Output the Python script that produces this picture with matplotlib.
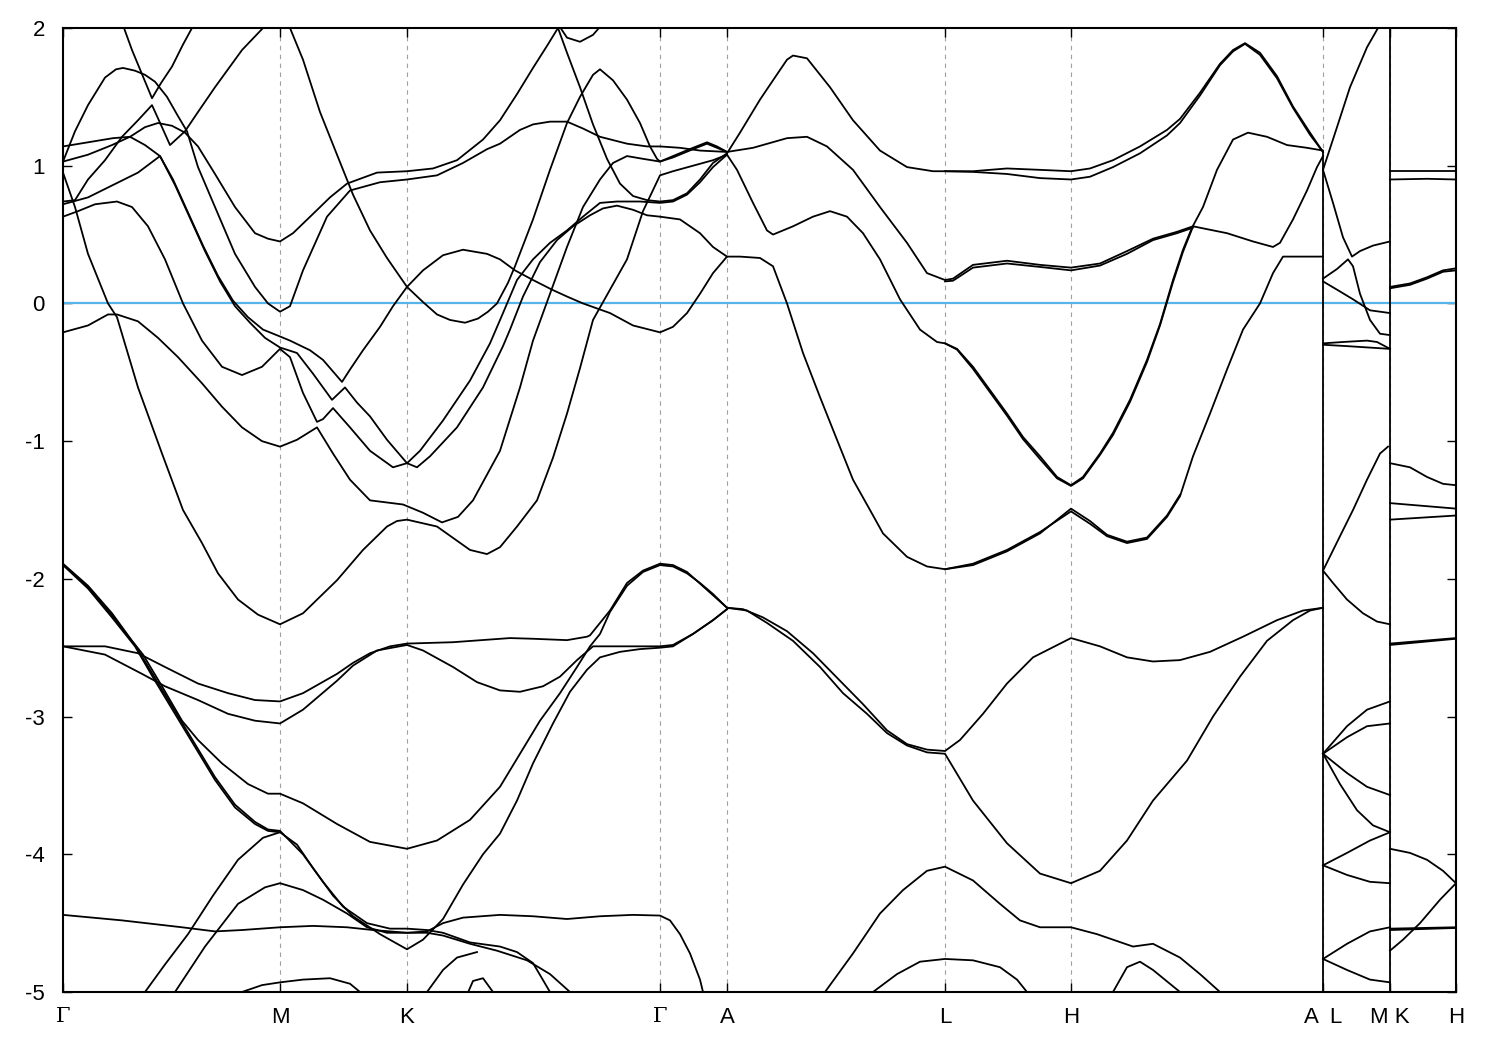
import matplotlib
matplotlib.use("Agg")
import matplotlib.pyplot as plt

plt.rcParams['font.family'] = ['Liberation Sans', 'DejaVu Sans']
plt.rcParams['axes.unicode_minus'] = False

# high symmetry points along the k path
sym_k = [0.00, 2.17, 3.44, 5.97, 6.64, 8.82, 10.08, 12.60, 13.27, 13.93]
sym_labels = ["Γ", "M", "K", "Γ", "A", "L", "H", "A  L", "M K", "H"]
e_ticks = [-5, -4, -3, -2, -1, 0, 1, 2]
fermi = 0.0

# jumps of the path (A|L and M|K), drawn as the bands go
jump_k = [12.60, 13.27]
jump_top = [1.10, 2.00]

# bands, (k, E) pairs in eV
peak_band = [(0.00, 1.03), (0.12, 1.25), (0.25, 1.44), (0.42, 1.64), (0.53, 1.70), (0.60, 1.71),
             (0.72, 1.69), (0.82, 1.66), (0.92, 1.61), (1.04, 1.50), (1.15, 1.36), (1.24, 1.25),
             (1.35, 0.99), (1.52, 0.70), (1.72, 0.36), (1.92, 0.12), (2.05, 0.00), (2.17, -0.06),
             (2.27, -0.02), (2.40, 0.24), (2.64, 0.63), (2.87, 0.82), (3.17, 0.88), (3.44, 0.90),
             (3.74, 0.93), (4.00, 1.02), (4.24, 1.12), (4.37, 1.16), (4.47, 1.21), (4.57, 1.26),
             (4.70, 1.30), (4.87, 1.32), (5.04, 1.32), (5.20, 1.27), (5.37, 1.21), (5.64, 1.16),
             (5.84, 1.14), (5.97, 1.14), (6.17, 1.13), (6.37, 1.11), (6.64, 1.10), (6.90, 1.13),
             (7.24, 1.20), (7.44, 1.21), (7.64, 1.14), (7.90, 0.97), (8.17, 0.70), (8.44, 0.44),
             (8.64, 0.22), (8.82, 0.17), (8.90, 0.18), (9.10, 0.28), (9.44, 0.31), (9.77, 0.28),
             (10.08, 0.26), (10.37, 0.29), (10.64, 0.38), (10.90, 0.47), (11.14, 0.52), (11.30, 0.56),
             (11.64, 0.51), (11.90, 0.45), (12.10, 0.41), (12.17, 0.44), (12.30, 0.61), (12.44, 0.82),
             (12.54, 0.99), (12.60, 1.07)]
a_band = [(0.00, 1.03), (0.25, 1.08), (0.49, 1.15), (0.67, 1.21), (0.82, 1.28), (0.95, 1.31),
          (1.09, 1.29), (1.22, 1.24), (1.35, 1.14), (1.52, 0.94), (1.72, 0.70), (1.92, 0.51),
          (2.05, 0.47), (2.17, 0.45), (2.30, 0.51), (2.50, 0.65), (2.67, 0.77), (2.84, 0.87),
          (3.14, 0.95), (3.44, 0.96), (3.70, 0.98), (3.94, 1.04), (4.20, 1.19), (4.37, 1.33),
          (4.54, 1.52), (4.70, 1.71), (4.84, 1.87), (4.95, 2.00), (5.00, 2.06)]
b114_band = [(0.00, 1.14), (0.25, 1.17), (0.50, 1.20), (0.67, 1.21), (0.82, 1.15), (0.97, 1.07),
             (1.10, 0.90), (1.25, 0.66), (1.40, 0.42), (1.55, 0.20), (1.70, 0.02), (1.85, -0.10),
             (2.00, -0.19), (2.17, -0.24), (2.27, -0.27), (2.47, -0.34), (2.60, -0.41), (2.79, -0.57),
             (2.87, -0.48), (3.00, -0.34), (3.17, -0.17), (3.30, -0.02), (3.44, 0.12), (3.60, 0.24),
             (3.80, 0.35), (4.00, 0.39), (4.24, 0.36), (4.37, 0.32), (4.52, 0.24), (4.70, 0.17),
             (4.89, 0.10), (5.04, 0.05), (5.20, 0.00), (5.47, -0.07), (5.70, -0.16), (5.97, -0.21),
             (6.10, -0.17), (6.24, -0.07), (6.37, 0.07), (6.50, 0.22), (6.64, 0.34), (6.77, 0.34),
             (6.97, 0.33), (7.10, 0.27), (7.24, 0.00), (7.40, -0.36), (7.57, -0.68), (7.74, -0.99),
             (7.90, -1.28), (8.07, -1.50), (8.20, -1.67), (8.44, -1.84), (8.64, -1.91), (8.82, -1.93),
             (9.10, -1.89), (9.44, -1.79), (9.77, -1.66), (10.08, -1.51), (10.27, -1.60),
             (10.44, -1.69), (10.64, -1.74), (10.84, -1.71), (11.04, -1.55), (11.17, -1.40),
             (11.30, -1.11), (11.47, -0.80), (11.64, -0.48), (11.80, -0.19), (11.97, 0.00),
             (12.10, 0.22), (12.20, 0.34), (12.37, 0.34), (12.60, 0.34)]
e_band = [(0.00, 0.74), (0.12, 0.75), (0.25, 0.90), (0.42, 1.04), (0.59, 1.21), (0.75, 1.33),
          (0.89, 1.44), (0.99, 1.28), (1.07, 1.15), (1.22, 1.25), (1.35, 1.39), (1.52, 1.57),
          (1.79, 1.84), (2.00, 2.00), (2.10, 2.08)]
f_band = [(0.00, 0.72), (0.25, 0.77), (0.50, 0.86), (0.75, 0.95), (0.97, 1.07), (1.12, 0.86),
          (1.27, 0.62), (1.42, 0.38), (1.57, 0.16), (1.72, -0.02), (1.87, -0.14), (2.02, -0.25),
          (2.17, -0.32), (2.34, -0.36), (2.50, -0.51), (2.69, -0.70), (2.82, -0.61), (2.94, -0.72),
          (3.07, -0.82), (3.24, -0.99), (3.44, -1.16), (3.54, -1.19), (3.67, -1.11), (3.94, -0.90),
          (4.20, -0.61), (4.40, -0.31), (4.47, -0.19), (4.60, 0.05), (4.77, 0.30), (4.94, 0.46),
          (5.10, 0.56), (5.27, 0.64), (5.40, 0.69), (5.54, 0.71), (5.70, 0.68), (5.84, 0.64),
          (5.97, 0.63), (6.17, 0.61), (6.37, 0.51), (6.50, 0.41), (6.64, 0.34)]
g_band = [(0.00, 0.63), (0.15, 0.67), (0.32, 0.72), (0.54, 0.74), (0.69, 0.70), (0.85, 0.56),
          (1.02, 0.32), (1.20, 0.00), (1.39, -0.27), (1.59, -0.46), (1.79, -0.52), (1.99, -0.46),
          (2.17, -0.33), (2.27, -0.39), (2.40, -0.65), (2.54, -0.86), (2.60, -0.84), (2.70, -0.76),
          (2.87, -0.90), (3.07, -1.07), (3.30, -1.19), (3.44, -1.16), (3.57, -1.07), (3.80, -0.85),
          (4.07, -0.56), (4.27, -0.29), (4.40, -0.07), (4.54, 0.17), (4.70, 0.32), (4.87, 0.44),
          (5.04, 0.53), (5.20, 0.63), (5.37, 0.73), (5.54, 0.74), (5.77, 0.74), (5.97, 0.73),
          (6.10, 0.74), (6.24, 0.79), (6.37, 0.88), (6.50, 0.99), (6.64, 1.08), (6.74, 0.97),
          (6.90, 0.73), (7.04, 0.53), (7.10, 0.50), (7.30, 0.56), (7.50, 0.63), (7.67, 0.67),
          (7.84, 0.63), (8.00, 0.51), (8.17, 0.32), (8.37, 0.03), (8.57, -0.19), (8.74, -0.28),
          (8.82, -0.29), (8.94, -0.33), (9.10, -0.46), (9.27, -0.63), (9.44, -0.80), (9.60, -0.97),
          (9.77, -1.11), (9.94, -1.26), (10.08, -1.32), (10.20, -1.26), (10.37, -1.09),
          (10.50, -0.94), (10.67, -0.70), (10.84, -0.41), (10.97, -0.15), (11.10, 0.17),
          (11.20, 0.39), (11.29, 0.55), (11.40, 0.70), (11.54, 0.97), (11.70, 1.19), (11.85, 1.24),
          (12.04, 1.21), (12.24, 1.15), (12.44, 1.13), (12.60, 1.11)]
m021_band = [(0.00, -0.21), (0.25, -0.16), (0.45, -0.08), (0.54, -0.08), (0.75, -0.13), (0.95, -0.25),
             (1.15, -0.39), (1.39, -0.58), (1.59, -0.75), (1.79, -0.90), (1.99, -1.00), (2.17, -1.04),
             (2.34, -0.99), (2.54, -0.90), (2.70, -1.09), (2.87, -1.28), (3.07, -1.43), (3.40, -1.46),
             (3.60, -1.52), (3.79, -1.59), (3.95, -1.55), (4.10, -1.43), (4.37, -1.07), (4.57, -0.61),
             (4.70, -0.27), (4.87, 0.07), (5.04, 0.41), (5.20, 0.70), (5.37, 0.90), (5.50, 1.02),
             (5.64, 1.07), (5.80, 1.05), (5.97, 1.03), (6.10, 1.07), (6.30, 1.13), (6.44, 1.17),
             (6.54, 1.14), (6.64, 1.10)]
steep_band = [(0.00, 0.95), (0.12, 0.70), (0.25, 0.36), (0.45, 0.00), (0.54, -0.10), (0.75, -0.61),
              (0.99, -1.09), (1.20, -1.50), (1.39, -1.74), (1.55, -1.96), (1.75, -2.15), (1.95, -2.26),
              (2.17, -2.33), (2.40, -2.25), (2.74, -2.01), (3.00, -1.79), (3.24, -1.62), (3.34, -1.58),
              (3.44, -1.57), (3.74, -1.62), (4.07, -1.79), (4.24, -1.82), (4.37, -1.77), (4.54, -1.62),
              (4.74, -1.43), (4.90, -1.12), (5.04, -0.80), (5.17, -0.47), (5.30, -0.12), (5.47, 0.10),
              (5.64, 0.32), (5.80, 0.67), (5.97, 0.93), (6.10, 0.96), (6.30, 1.00), (6.50, 1.04),
              (6.64, 1.08)]
mk3_band = [(2.13, 2.08), (2.27, 2.00), (2.40, 1.77), (2.57, 1.39), (2.74, 1.08), (2.90, 0.79),
            (3.07, 0.53), (3.24, 0.33), (3.44, 0.12), (3.60, 0.01), (3.74, -0.08), (3.87, -0.12),
            (4.02, -0.14), (4.15, -0.11), (4.25, -0.06), (4.34, 0.00), (4.45, 0.15), (4.52, 0.27),
            (4.70, 0.61), (4.87, 0.97), (5.04, 1.31), (5.17, 1.50), (5.30, 1.66), (5.37, 1.70),
            (5.50, 1.62), (5.64, 1.48), (5.77, 1.31), (5.87, 1.14), (5.94, 1.05), (5.97, 1.03),
            (6.10, 1.06), (6.30, 1.12), (6.44, 1.16), (6.54, 1.13), (6.64, 1.10)]
top_band = [(4.95, 2.00), (5.04, 1.82), (5.17, 1.57), (5.30, 1.30), (5.44, 1.05), (5.57, 0.87),
            (5.70, 0.78), (5.84, 0.75), (5.97, 0.74), (6.10, 0.75), (6.24, 0.80), (6.37, 0.90),
            (6.50, 1.02), (6.64, 1.09), (6.77, 1.24), (6.97, 1.48), (7.10, 1.62), (7.24, 1.77),
            (7.30, 1.80), (7.44, 1.78), (7.67, 1.57), (7.90, 1.33), (8.17, 1.11), (8.44, 0.99),
            (8.70, 0.96), (8.82, 0.96), (9.10, 0.96), (9.44, 0.98), (9.77, 0.97), (10.08, 0.96),
            (10.27, 0.98), (10.50, 1.04), (10.77, 1.14), (11.04, 1.26), (11.17, 1.34), (11.37, 1.53),
            (11.57, 1.74), (11.70, 1.84), (11.82, 1.89), (11.97, 1.82), (12.14, 1.65), (12.30, 1.43),
            (12.47, 1.24), (12.60, 1.10)]
v_band = [(0.60, 2.02), (0.69, 1.84), (0.77, 1.70), (0.89, 1.49), (0.98, 1.60), (1.09, 1.72),
          (1.20, 1.88), (1.29, 2.00), (1.33, 2.06)]
dip_band = [(4.93, 2.05), (5.04, 1.93), (5.17, 1.90), (5.30, 1.95), (5.36, 2.00), (5.40, 2.05)]

# spin partners seen as doubled lines
top_pair = [(8.82, 0.96), (9.10, 0.955), (9.44, 0.94), (9.77, 0.91), (10.08, 0.90), (10.27, 0.92),
            (10.50, 0.99), (10.77, 1.09), (11.04, 1.22), (11.17, 1.31), (11.37, 1.51), (11.57, 1.73),
            (11.70, 1.83), (11.82, 1.885), (11.97, 1.805), (12.14, 1.635), (12.30, 1.42),
            (12.47, 1.225), (12.60, 1.10)]
peak_pair = [(8.82, 0.16), (8.90, 0.165), (9.10, 0.26), (9.44, 0.29), (9.77, 0.265), (10.08, 0.24),
             (10.37, 0.275), (10.64, 0.36), (10.90, 0.46), (11.14, 0.51), (11.30, 0.55)]
g_pair = [(8.82, -0.29), (8.94, -0.335), (9.10, -0.475), (9.27, -0.645), (9.44, -0.815),
          (9.60, -0.985), (9.77, -1.13), (9.94, -1.27), (10.08, -1.325), (10.20, -1.27),
          (10.37, -1.10), (10.50, -0.955), (10.67, -0.715), (10.84, -0.425), (10.97, -0.16),
          (11.10, 0.155), (11.20, 0.375), (11.29, 0.54)]
b114_pair = [(8.82, -1.93), (9.10, -1.90), (9.44, -1.80), (9.77, -1.67), (10.08, -1.49), (10.27, -1.58),
             (10.44, -1.68), (10.64, -1.73), (10.84, -1.70), (11.04, -1.54), (11.17, -1.39)]

# lower bands
m189a_band = [(0.00, -1.89), (0.25, -2.05), (0.49, -2.25), (0.69, -2.45), (0.80, -2.55), (0.99, -2.78),
              (1.19, -3.03), (1.35, -3.17), (1.59, -3.34), (1.85, -3.49), (2.05, -3.56), (2.17, -3.56),
              (2.40, -3.63), (2.74, -3.78), (3.07, -3.91), (3.44, -3.96), (3.74, -3.90), (4.07, -3.75),
              (4.37, -3.51), (4.57, -3.27), (4.77, -3.03), (4.97, -2.83), (5.14, -2.64), (5.27, -2.49),
              (5.37, -2.40), (5.47, -2.24), (5.64, -2.05), (5.80, -1.95), (5.97, -1.90), (6.10, -1.91),
              (6.24, -1.96), (6.37, -2.03), (6.50, -2.11), (6.64, -2.21), (6.84, -2.23), (7.04, -2.32),
              (7.30, -2.45), (7.57, -2.64), (7.80, -2.83), (8.04, -2.98), (8.24, -3.12), (8.44, -3.21),
              (8.64, -3.26), (8.82, -3.27), (9.10, -3.61), (9.44, -3.92), (9.77, -4.14), (10.08, -4.21),
              (10.37, -4.12), (10.64, -3.90), (10.90, -3.61), (11.24, -3.32), (11.50, -3.00),
              (11.77, -2.71), (12.04, -2.45), (12.30, -2.30), (12.47, -2.23), (12.60, -2.21)]
m189b_band = [(0.00, -1.90), (0.25, -2.07), (0.49, -2.28), (0.72, -2.49), (0.92, -2.74), (1.12, -2.98),
              (1.32, -3.22), (1.52, -3.46), (1.72, -3.66), (1.92, -3.78), (2.05, -3.83), (2.17, -3.84),
              (2.34, -3.93), (2.50, -4.10), (2.70, -4.30), (2.90, -4.45), (3.17, -4.58), (3.44, -4.69),
              (3.60, -4.62), (3.80, -4.47), (4.00, -4.22), (4.20, -4.00), (4.37, -3.85), (4.54, -3.61),
              (4.70, -3.34), (4.90, -3.05), (5.07, -2.82), (5.24, -2.66), (5.37, -2.57), (5.57, -2.53),
              (5.77, -2.51), (5.97, -2.50), (6.10, -2.49), (6.30, -2.40), (6.50, -2.30), (6.64, -2.22)]
m189c_band = [(0.00, -1.895), (0.25, -2.06), (0.49, -2.265), (0.72, -2.48), (0.92, -2.72), (1.12, -2.96),
              (1.32, -3.20), (1.52, -3.44), (1.72, -3.64), (1.92, -3.765), (2.05, -3.82), (2.17, -3.83),
              (2.40, -4.00), (2.60, -4.20), (2.80, -4.38), (3.04, -4.50), (3.27, -4.54), (3.44, -4.54),
              (3.64, -4.55), (3.80, -4.57), (4.07, -4.64), (4.37, -4.67), (4.54, -4.71), (4.70, -4.79),
              (4.87, -5.00), (4.92, -5.10)]
m249a_band = [(0.00, -2.49), (0.42, -2.49), (0.75, -2.54), (1.02, -2.64), (1.35, -2.76), (1.65, -2.83),
              (1.92, -2.88), (2.17, -2.89), (2.40, -2.83), (2.74, -2.69), (2.90, -2.61), (3.07, -2.54),
              (3.27, -2.49), (3.44, -2.47), (3.90, -2.46), (4.47, -2.43), (4.70, -2.435), (5.04, -2.445),
              (5.24, -2.42), (5.27, -2.41), (5.47, -2.23), (5.64, -2.03), (5.80, -1.94), (5.97, -1.89),
              (6.10, -1.90), (6.24, -1.95), (6.44, -2.08), (6.64, -2.21), (6.80, -2.22), (7.00, -2.28),
              (7.24, -2.38), (7.50, -2.54), (7.77, -2.74), (8.00, -2.91), (8.24, -3.10), (8.44, -3.20),
              (8.64, -3.24), (8.82, -3.25), (8.97, -3.17), (9.20, -2.98), (9.44, -2.76), (9.70, -2.57),
              (10.08, -2.43), (10.37, -2.49), (10.64, -2.57), (10.90, -2.60), (11.17, -2.59),
              (11.47, -2.53), (11.80, -2.42), (12.14, -2.30), (12.40, -2.23), (12.60, -2.21)]
m249b_band = [(0.00, -2.49), (0.42, -2.55), (0.79, -2.69), (1.02, -2.78), (1.35, -2.88), (1.65, -2.98),
              (1.92, -3.03), (2.17, -3.05), (2.40, -2.95), (2.74, -2.74), (2.90, -2.63), (3.14, -2.52),
              (3.44, -2.48), (3.60, -2.52), (3.90, -2.64), (4.14, -2.75), (4.37, -2.81), (4.57, -2.82),
              (4.80, -2.78), (4.97, -2.71), (5.14, -2.59), (5.30, -2.49), (5.54, -2.49), (5.97, -2.49),
              (6.10, -2.48), (6.30, -2.40), (6.50, -2.30), (6.64, -2.22)]
m444_band = [(0.00, -4.44), (0.59, -4.48), (1.19, -4.53), (1.52, -4.56), (1.79, -4.55), (2.17, -4.53),
             (2.50, -4.52), (2.84, -4.53), (3.10, -4.55), (3.44, -4.57), (3.64, -4.56), (3.80, -4.50),
             (4.00, -4.46), (4.37, -4.44), (4.70, -4.45), (5.04, -4.47), (5.37, -4.45), (5.70, -4.44),
             (5.97, -4.445), (6.07, -4.48), (6.17, -4.58), (6.27, -4.72), (6.37, -4.91), (6.40, -5.00),
             (6.42, -5.10)]
lo1_band = [(0.82, -5.00), (1.02, -4.80), (1.25, -4.58), (1.50, -4.30), (1.75, -4.04), (2.00, -3.88),
            (2.17, -3.84)]
lo2_band = [(1.12, -5.00), (1.42, -4.67), (1.75, -4.36), (2.02, -4.24), (2.17, -4.21), (2.40, -4.26),
            (2.60, -4.33), (2.84, -4.43), (3.04, -4.53), (3.24, -4.57), (3.44, -4.57), (3.64, -4.57),
            (3.80, -4.59), (4.07, -4.65), (4.34, -4.70), (4.64, -4.77), (4.87, -4.87), (5.07, -5.00),
            (5.12, -5.05)]
lo3_band = [(1.79, -5.00), (1.99, -4.95), (2.17, -4.93), (2.40, -4.91), (2.67, -4.90), (2.87, -4.94),
            (2.97, -5.00), (3.00, -5.05)]
kg_lo_band = [(3.64, -5.00), (3.80, -4.84), (3.94, -4.75), (4.14, -4.71)]
kg_bump = [(4.04, -5.02), (4.10, -4.92), (4.20, -4.90), (4.30, -5.00), (4.32, -5.02)]
al_lo1_band = [(7.62, -5.00), (7.90, -4.72), (8.17, -4.43), (8.40, -4.26), (8.64, -4.12), (8.82, -4.09),
               (9.10, -4.19), (9.37, -4.36), (9.57, -4.48), (9.77, -4.53), (10.08, -4.53), (10.34, -4.58),
               (10.50, -4.62), (10.70, -4.67), (10.90, -4.65), (11.17, -4.75), (11.37, -4.87),
               (11.57, -5.00), (11.60, -5.05)]
al_lo2_band = [(8.10, -5.00), (8.34, -4.87), (8.57, -4.78), (8.82, -4.76), (9.10, -4.77), (9.37, -4.82),
               (9.54, -4.91), (9.64, -5.00), (9.68, -5.05)]
lh_bump = [(10.50, -5.00), (10.64, -4.82), (10.77, -4.78), (10.90, -4.84), (11.17, -5.00)]

# L-M segment
lm_bands = [
    [(12.60, 0.97), (12.74, 1.28), (12.87, 1.57), (13.04, 1.86), (13.15, 2.00), (13.20, 2.08)],
    [(12.60, 0.97), (12.70, 0.73), (12.80, 0.48), (12.89, 0.34), (12.97, 0.38), (13.10, 0.42), (13.27, 0.45)],
    [(12.60, 0.18), (12.74, 0.25), (12.85, 0.32), (12.90, 0.27), (12.97, 0.07), (13.07, -0.12),
     (13.17, -0.22), (13.27, -0.23)],
    [(12.60, 0.16), (12.74, 0.10), (12.90, 0.03), (13.07, -0.05), (13.27, -0.07)],
    [(12.60, -0.29), (12.80, -0.28), (13.04, -0.27), (13.14, -0.28), (13.27, -0.33)],
    [(12.60, -0.30), (12.84, -0.31), (13.27, -0.33)],
    [(12.60, -1.94), (12.77, -1.69), (12.90, -1.50), (13.04, -1.28), (13.17, -1.09), (13.25, -1.04)],
    [(12.60, -1.94), (12.70, -2.03), (12.84, -2.15), (13.00, -2.25), (13.14, -2.31), (13.27, -2.33)],
    [(12.60, -3.27), (12.84, -3.07), (13.04, -2.95), (13.27, -2.89)],
    [(12.60, -3.27), (12.84, -3.15), (13.04, -3.07), (13.27, -3.05)],
    [(12.60, -3.27), (12.84, -3.41), (13.04, -3.51), (13.27, -3.57)],
    [(12.60, -3.27), (12.77, -3.49), (12.94, -3.68), (13.10, -3.79), (13.27, -3.84)],
    [(12.60, -4.08), (12.84, -3.99), (13.07, -3.90), (13.27, -3.84)],
    [(12.60, -4.08), (12.84, -4.15), (13.07, -4.20), (13.27, -4.21)],
    [(12.60, -4.76), (12.84, -4.65), (13.07, -4.56), (13.27, -4.53)],
    [(12.60, -4.76), (12.84, -4.84), (13.07, -4.91), (13.27, -4.93)],
]
# K-H segment
kh_bands = [
    [(13.27, 0.96), (13.93, 0.96)],
    [(13.27, 0.90), (13.64, 0.905), (13.93, 0.90)],
    [(13.27, 0.12), (13.47, 0.145), (13.64, 0.19), (13.80, 0.24), (13.93, 0.255)],
    [(13.27, 0.11), (13.47, 0.135), (13.64, 0.18), (13.80, 0.23), (13.93, 0.24)],
    [(13.27, -1.16), (13.47, -1.19), (13.64, -1.26), (13.80, -1.31), (13.93, -1.32)],
    [(13.27, -1.45), (13.93, -1.49)],
    [(13.27, -1.57), (13.93, -1.54)],
    [(13.27, -2.47), (13.93, -2.43)],
    [(13.27, -2.48), (13.93, -2.435)],
    [(13.27, -3.96), (13.47, -3.99), (13.64, -4.04), (13.80, -4.12), (13.93, -4.21)],
    [(13.27, -4.70), (13.40, -4.62), (13.57, -4.50), (13.77, -4.33), (13.93, -4.21)],
    [(13.27, -4.54), (13.93, -4.53)],
    [(13.27, -4.55), (13.93, -4.535)],
]

bands = [peak_band, a_band, b114_band, e_band, f_band, g_band, m021_band, steep_band, mk3_band,
         top_band, v_band, dip_band, top_pair, peak_pair, g_pair, b114_pair,
         m189a_band, m189b_band, m189c_band, m249a_band, m249b_band, m444_band,
         lo1_band, lo2_band, lo3_band, kg_lo_band, kg_bump, al_lo1_band, al_lo2_band, lh_bump]
bands += lm_bands + kh_bands

fig = plt.figure(figsize=(15, 10.5), dpi=100)
ax = fig.add_axes([63 / 1500, 1 - 992 / 1050, 1393 / 1500, 964 / 1050])

for k in sym_k[1:-1]:
    ax.axvline(k, color='#a0a0a0', lw=0.8, ls=(0, (4, 4)), zorder=1)

for b in bands:
    ks, es = zip(*b)
    ax.plot(ks, es, color='black', lw=1.3, zorder=3)

for k, top in zip(jump_k, jump_top):
    ax.plot([k, k], [top, -5.2], color='black', lw=1.3, zorder=3)

ax.axhline(fermi, color='#56b4e9', lw=1.6, zorder=2)

ax.set_xlim(sym_k[0], sym_k[-1])
ax.set_ylim(-5, 2)
ax.set_xticks(sym_k)
ax.set_xticklabels(sym_labels)
ax.set_yticks(e_ticks)
ax.set_yticklabels([str(v) for v in e_ticks])

ax.tick_params(direction='in', length=6.5, width=1.0, top=True, right=True, labelsize=16)
ax.tick_params(axis='x', pad=11)
ax.tick_params(axis='y', pad=13)
for lab in ax.get_xticklabels():
    if lab.get_text() == "Γ":
        lab.set_fontfamily(['DejaVu Serif'])
        lab.set_fontsize(15)
for s in ax.spines.values():
    s.set_linewidth(1.5)

fig.savefig("out.png", dpi=100)
